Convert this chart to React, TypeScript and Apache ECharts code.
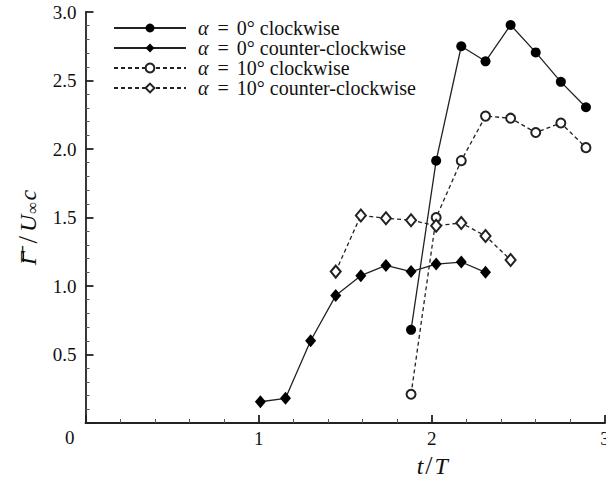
import React, { useEffect, useRef } from "react";
import * as echarts from "echarts";

// time t/T of the measurements
const tCw0 = [1.88, 2.025, 2.17, 2.31, 2.455, 2.6, 2.745, 2.89];
const gCw0 = [0.68, 1.915, 2.75, 2.64, 2.905, 2.705, 2.49, 2.305];

const tCcw0 = [1.01, 1.155, 1.3, 1.445, 1.59, 1.735, 1.88, 2.025, 2.17, 2.31];
const gCcw0 = [0.155, 0.18, 0.6, 0.93, 1.075, 1.15, 1.105, 1.16, 1.175, 1.1];

const tCw10 = [1.88, 2.025, 2.17, 2.31, 2.455, 2.6, 2.745, 2.89];
const gCw10 = [0.21, 1.5, 1.915, 2.24, 2.225, 2.12, 2.19, 2.01];

const tCcw10 = [1.445, 1.59, 1.735, 1.88, 2.025, 2.17, 2.31, 2.455];
const gCcw10 = [1.105, 1.515, 1.495, 1.48, 1.44, 1.46, 1.365, 1.19];

const seriesNames = [
  "α = 0° clockwise",
  "α = 0° counter-clockwise",
  "α = 10° clockwise",
  "α = 10° counter-clockwise",
];

const FONT = "Liberation Serif";
const INK = "#111";

const zip = (xs: number[], ys: number[]) => xs.map((x, i) => [x, ys[i]]);

export default function App() {
  const ref = useRef<HTMLDivElement>(null);
  useEffect(() => {
    if (!ref.current) return;
    const chart = echarts.init(ref.current, undefined, { renderer: "svg" });
    const lineBase = (dashed: boolean) => ({
      color: "#222",
      width: 1.3,
      type: dashed ? ([4, 3] as any) : "solid",
    });
    const LH = 18.7;
    const FS = 20;
    const legendRich = {
      i: { fontFamily: FONT, fontStyle: "italic", fontSize: FS, lineHeight: LH, color: INK, padding: [0, 1, 0, 7] },
      e: { fontFamily: FONT, fontSize: FS, lineHeight: LH, color: INK, padding: [0, 3, 0, 3] },
      t: { fontFamily: FONT, fontSize: FS, lineHeight: LH, color: INK },
    };
    chart.setOption({
      animation: false,
      backgroundColor: "#fff",
      textStyle: { fontFamily: FONT },
      grid: {
        left: 85.5,
        right: 1,
        top: 12,
        bottom: 62,
        containLabel: false,
        outerBoundsMode: "none",
      },
      legend: {
        orient: "vertical",
        left: 113,
        top: 18,
        padding: 0,
        itemWidth: 72,
        itemHeight: 11,
        itemGap: 0,
        textStyle: {
          fontFamily: FONT,
          fontSize: FS,
          color: INK,
          lineHeight: LH,
          rich: legendRich,
        },
        formatter: (name: string) => {
          const m = name.match(/^α = (\S+) (.*)$/);
          if (!m) return name;
          return `{i|α}{t| }{e|=}{t| ${m[1]} ${m[2]}}`;
        },
        data: seriesNames,
      },
      xAxis: {
        type: "value",
        min: 0,
        max: 3,
        interval: 1,
        name: "{i|t}{s|/}{i|T}",
        nameLocation: "middle",
        nameGap: 29,
        nameTextStyle: {
          fontFamily: FONT,
          fontSize: 24,
          color: INK,
          padding: [0, 0, 0, 174],
          rich: {
            i: { fontFamily: FONT, fontStyle: "italic", fontSize: 24, color: INK },
            s: { fontFamily: FONT, fontSize: 26, color: INK, padding: [0, 2, 0, 2] },
          },
        },
        axisLine: { show: true, lineStyle: { color: "#222", width: 1.8 } },
        axisTick: { show: true, inside: true, length: 8, lineStyle: { color: "#222", width: 1.8 } },
        minorTick: { show: true, splitNumber: 5, length: 4, lineStyle: { color: "#555", width: 1 } },
        splitLine: { show: false },
        axisLabel: {
          fontFamily: FONT,
          fontSize: 19,
          color: INK,
          margin: 6,
          showMinLabel: true,
          showMaxLabel: true,
          hideOverlap: false,
          formatter: (v: number) => (v === 0 ? "" : String(v)),
        },
      },
      yAxis: {
        type: "value",
        min: 0,
        max: 3,
        interval: 0.5,
        name: "{g|Γ̄}{s|/}{i|U}{b|∞}{i|c}",
        nameLocation: "middle",
        nameGap: 40,
        nameRotate: 90,
        nameTextStyle: {
          fontFamily: FONT,
          fontSize: 24,
          color: INK,
          padding: [0, 20, 0, 0],
          rich: {
            g: { fontFamily: FONT, fontStyle: "italic", fontSize: 24, color: INK, padding: [0, 5, 0, 0] },
            s: { fontFamily: FONT, fontSize: 27, color: INK, padding: [0, 4, 0, 3] },
            i: { fontFamily: FONT, fontStyle: "italic", fontSize: 24, color: INK },
            b: { fontFamily: FONT, fontSize: 17, color: INK, padding: [9, 1, 0, 1] },
          },
        },
        axisLine: { show: true, lineStyle: { color: "#222", width: 1.8 } },
        axisTick: { show: true, inside: true, length: 8, lineStyle: { color: "#222", width: 1.8 } },
        minorTick: { show: true, splitNumber: 5, length: 4, lineStyle: { color: "#555", width: 1 } },
        splitLine: { show: false },
        axisLabel: {
          fontFamily: FONT,
          fontSize: 19,
          color: INK,
          margin: 9,
          formatter: (v: number) => (v === 0 ? "" : v.toFixed(1)),
        },
      },
      graphic: [
        {
          type: "text",
          left: 65,
          top: 428,
          style: { text: "0", fontFamily: FONT, fontSize: 19, fill: INK },
        },
        {
          type: "rect",
          shape: { x: 22.5, y: 251, width: 1.6, height: 11 },
          style: { fill: INK },
        },
      ],
      series: [
        {
          name: seriesNames[0],
          type: "line",
          data: zip(tCw0, gCw0),
          symbol: "circle",
          symbolSize: 10,
          itemStyle: { color: "#000" },
          lineStyle: lineBase(false),
        },
        {
          name: seriesNames[1],
          type: "line",
          data: zip(tCcw0, gCcw0),
          symbol: "diamond",
          symbolSize: [11, 13],
          itemStyle: { color: "#000" },
          lineStyle: lineBase(false),
        },
        {
          name: seriesNames[2],
          type: "line",
          data: zip(tCw10, gCw10),
          symbol: "emptyCircle",
          symbolSize: 9,
          itemStyle: { color: "#222", borderWidth: 1.5 },
          lineStyle: lineBase(true),
        },
        {
          name: seriesNames[3],
          type: "line",
          data: zip(tCcw10, gCcw10),
          symbol: "emptyDiamond",
          symbolSize: [10, 12],
          itemStyle: { color: "#222", borderWidth: 1.5 },
          lineStyle: lineBase(true),
        },
      ],
    });
    return () => chart.dispose();
  }, []);
  return (
    <div
      ref={ref}
      style={{ position: "absolute", left: 0, top: 0, width: 606, height: 485 }}
    />
  );
}
